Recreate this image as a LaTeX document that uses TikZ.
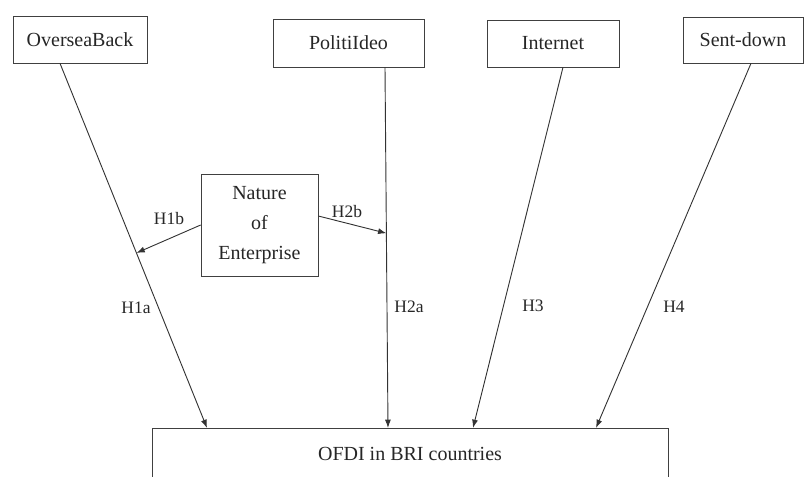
\documentclass[tikz,border=0pt]{standalone}
\usepackage{fontspec}
\setmainfont{Liberation Serif}
\usepackage{tikz}
\usetikzlibrary{arrows.meta,calc}

\begin{document}
\begin{tikzpicture}[
    x=0.6pt, y=-0.6pt,
    box/.style={rectangle, draw=black!75, text=black!85, inner sep=0pt, align=center, font=\fontsize{12}{18}\selectfont},
    hyp/.style={text=black!85, inner sep=0pt, font=\fontsize{10.5}{12}\selectfont},
    arrow/.style={-{Latex[length=5pt,width=3.6pt]}, draw=black!80, line width=0.55pt}
]
    \useasboundingbox (0,0) rectangle (806,477);

    % top row of factors
    \node[box, minimum width=80.4pt, minimum height=28.2pt] (oversea) at (80,39.5) {OverseaBack};
    \node[box, minimum width=90.6pt, minimum height=28.8pt] (politi) at (348.5,43) {PolitiIdeo};
    \node[box, minimum width=79.2pt, minimum height=28.2pt] (internet) at (553,43.5) {Internet};
    \node[box, minimum width=72pt, minimum height=27.6pt] (sentdown) at (743,40) {Sent-down};

    % moderator
    \node[box, minimum width=70.2pt, minimum height=61.2pt] (nature) at (259.5,225) {Nature\\of\\Enterprise};

    % outcome, cut by the lower edge
    \node[box, anchor=north, minimum width=309.6pt, text height=19.2pt, text depth=60pt] (ofdi) at (410,428) {OFDI in BRI countries};

    % direct effects
    \draw[arrow] ([xshift=-12pt]oversea.south) -- ([xshift=-121.8pt]ofdi.north);
    \draw[arrow] ([xshift=21.9pt]politi.south) -- ([xshift=-13.2pt]ofdi.north);
    \draw[arrow] ([xshift=6pt]internet.south) -- ([xshift=37.8pt]ofdi.north);
    \draw[arrow] ([xshift=4.8pt]sentdown.south) -- ([xshift=111.6pt]ofdi.north);

    % moderating effects
    \coordinate (onH1) at ($([xshift=-12pt]oversea.south)!0.52!([xshift=-121.8pt]ofdi.north)$);
    \coordinate (onH2) at ($([xshift=21.9pt]politi.south)!0.46!([xshift=-13.2pt]ofdi.north)$);
    \draw[arrow] (nature.west) -- (onH1);
    \draw[arrow] ([yshift=5.4pt]nature.east) -- (onH2);

    \node[hyp] (h1b) at (169,219) {H1b};
    \node[hyp] (h2b) at (347,212) {H2b};
    \node[hyp] (h1a) at (136,308) {H1a};
    \node[hyp] (h2a) at (409,307) {H2a};
    \node[hyp] (h3) at (533,306) {H3};
    \node[hyp] (h4) at (674,307) {H4};
\end{tikzpicture}
\end{document}
